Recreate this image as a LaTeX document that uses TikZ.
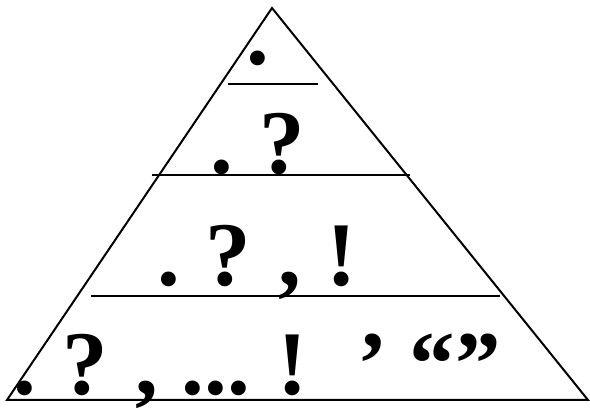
\documentclass[tikz,border=0pt]{standalone}
\usepackage{fontspec}
\setmainfont{Liberation Serif}
\begin{document}
\begin{tikzpicture}[x=1pt,y=-1pt,
  edge/.style={line width=2pt,line join=miter},
  punct/.style={inner sep=0pt,anchor=base,font=\fontsize{91}{91}\selectfont\bfseries}]
\useasboundingbox (0,0) rectangle (590,411);
\coordinate (apex) at (272,8);
\coordinate (bl) at (7,400);
\coordinate (br) at (588,400);
\draw[edge] (apex) -- (br) -- (bl) -- cycle;
\coordinate (l1a) at (228,84);  \coordinate (l1b) at (318,84);
\coordinate (l2a) at (152,175); \coordinate (l2b) at (410,175);
\coordinate (l3a) at (91,296);  \coordinate (l3b) at (500,296);
\draw[edge] (l1a) -- (l1b);
\draw[edge] (l2a) -- (l2b);
\draw[edge] (l3a) -- (l3b);
% row 1
\node[punct] (r1p) at (258,65) {.};
% row 2
\node[punct] (r2p) at (222,174) {.};
\node[punct] (r2q) at (282,174) {?};
% row 3
\node[punct] (r3p) at (169,286) {.};
\node[punct] (r3q) at (228,286) {?};
\node[punct] (r3c) at (290,286) {,};
\node[punct] (r3e) at (342,286) {!};
% row 4
\node[punct] (r4p) at (25,395) {.};
\node[punct] (r4q) at (85,395) {?};
\node[punct] (r4c) at (147,395) {,};
\node[punct] (r4d) at (216,395) {...};
\node[punct] (r4e) at (293,395) {!};
\node[punct] (r4a) at (373,395) {’};
\node[punct] (r4qq) at (455,395) {“”};
\end{tikzpicture}
\end{document}
